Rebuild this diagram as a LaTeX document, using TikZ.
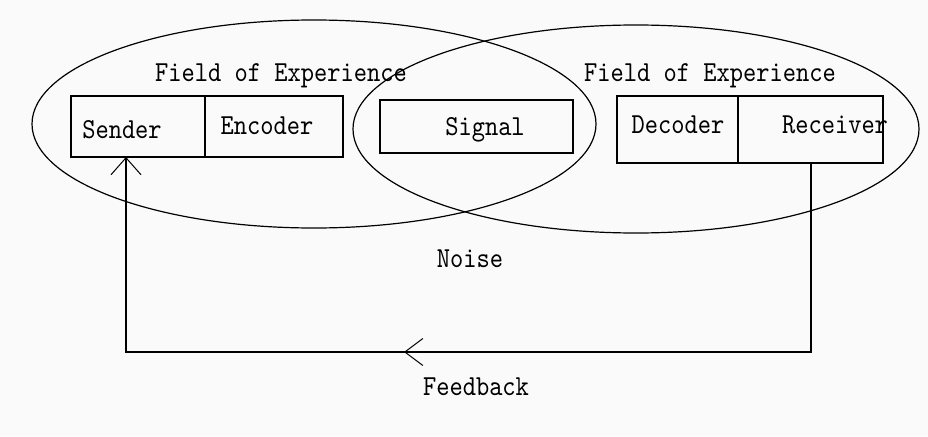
\documentclass[tikz,border=0pt]{standalone}
\usepackage{fontspec}
\newfontfamily\diagfont[FakeStretch=0.87]{lmmono10-regular.otf}
\usetikzlibrary{arrows.meta,shapes.geometric,decorations.markings}
\tikzset{
  field/.style={draw, ellipse, line width=1.2pt, inner sep=0pt},
  part/.style={draw, rectangle, line width=1.4pt, inner sep=0pt},
  lbl/.style={font=\diagfont\fontsize{29}{32}\selectfont, inner sep=0pt, anchor=base},
  loopline/.style={line width=1.8pt}
}
\begin{document}
\begin{tikzpicture}[x=1pt, y=-1pt]
  % canvas
  \fill[gray!4] (0,0) rectangle (928,436);
  \useasboundingbox (0,0) rectangle (928,436);

  % the two fields of experience
  \node[field, minimum width=564pt, minimum height=208pt] (leftfield) at (314,124) {};
  \node[field, minimum width=566pt, minimum height=208pt] (rightfield) at (636,129) {};

  % sender side
  \node[part, minimum width=134pt, minimum height=61pt] (sender) at (138,126.5) {};
  \node[part, minimum width=138pt, minimum height=61pt] (encoder) at (274,126.5) {};
  % channel
  \node[part, minimum width=193pt, minimum height=53pt] (signal) at (476.5,126.5) {};
  % receiver side
  \node[part, minimum width=121pt, minimum height=67pt] (decoder) at (677.5,129.5) {};
  \node[part, minimum width=145pt, minimum height=67pt] (receiver) at (810.5,129.5) {};

  % texts (placed on their baselines)
  \node[lbl] (fieldL) at (281,81.5) {Field of Experience};
  \node[lbl] (fieldR) at (710,81.5) {Field of Experience};
  \node[lbl] (tsender) at (122,138) {Sender};
  \node[lbl] (tencoder) at (267,134) {Encoder};
  \node[lbl] (tsignal) at (485,135) {Signal};
  \node[lbl] (tdecoder) at (678,133) {Decoder};
  \node[lbl] (treceiver) at (835,133) {Receiver};
  \node[lbl] (noise) at (470,267) {Noise};
  \node[lbl] (feedback) at (476,395) {Feedback};

  % feedback loop from receiver back to sender
  \coordinate (fbstart) at (811,163);
  \coordinate (fbend) at (126,157);
  \coordinate (fbbottom) at (0,352);
  \draw[loopline, -{Straight Barb[length=17pt, width=30pt, line width=1pt]},
        postaction={decorate},
        decoration={markings, mark=at position 596pt with {\arrow[line width=1pt]{Straight Barb[length=18pt, width=27pt]}}}]
    (fbstart) -- (fbstart |- fbbottom) -- (fbend |- fbbottom) -- (fbend);
\end{tikzpicture}
\end{document}
